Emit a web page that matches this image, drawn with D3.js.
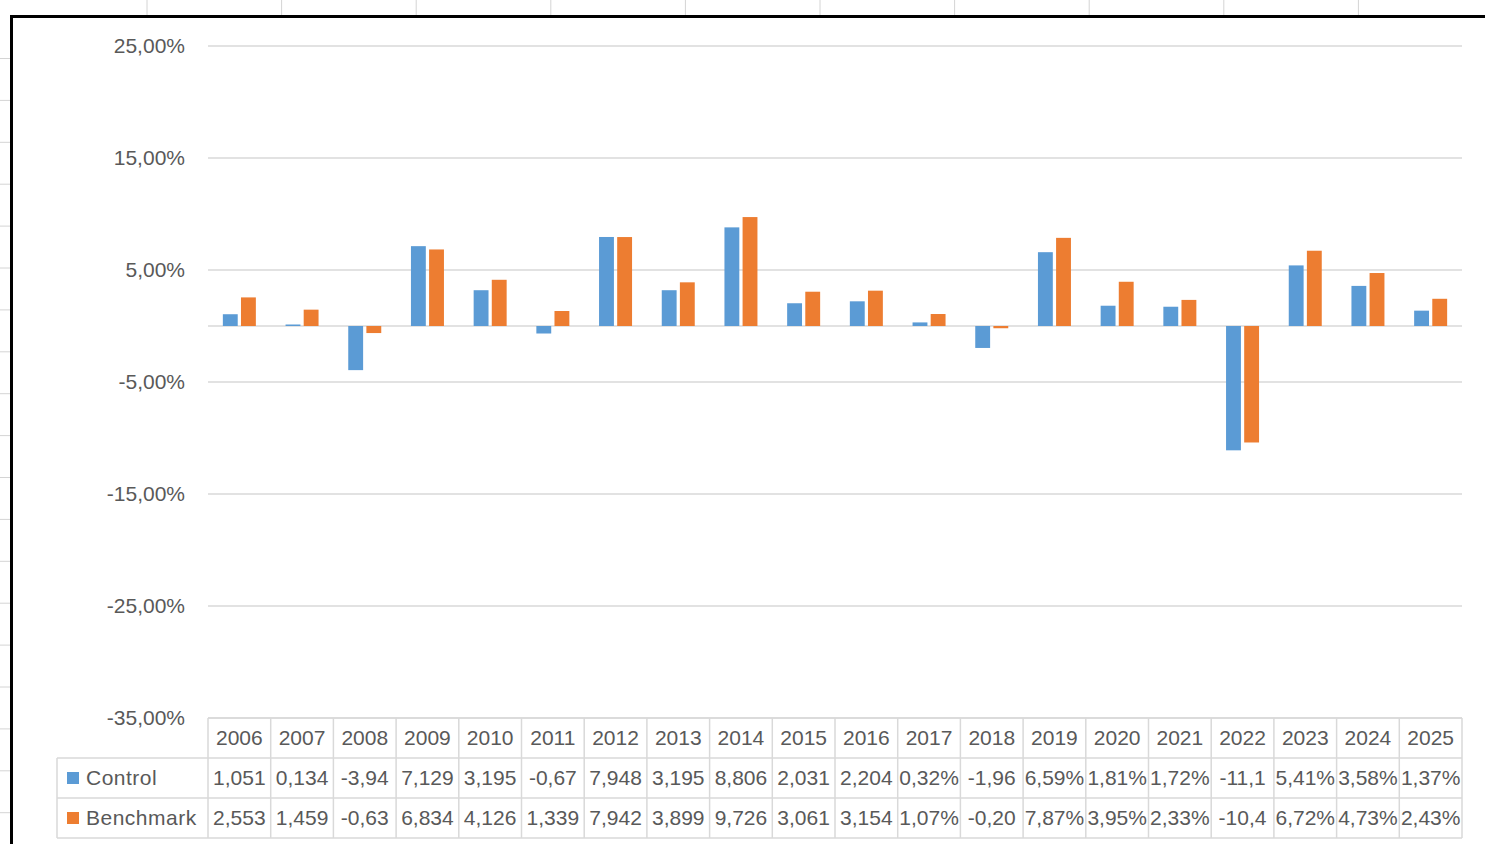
<!doctype html>
<html lang="en">
<head>
  <meta charset="utf-8">
  <title>Control vs Benchmark</title>
  <script src="https://d3js.org/d3.v7.min.js"></script>
  <style>
    html, body { margin: 0; padding: 0; background: #fff; }
    svg text { font-family: "Liberation Sans", Arial, sans-serif; fill: #595959; }
  </style>
</head>
<body>
  <div id="svg_container"></div>
  <script type="text/javascript">
  // data (percent)
  var years = ["2006","2007","2008","2009","2010","2011","2012","2013","2014","2015",
               "2016","2017","2018","2019","2020","2021","2022","2023","2024","2025"];
  var control = [1.051, 0.134, -3.94, 7.129, 3.195, -0.67, 7.948, 3.195, 8.806, 2.031,
                 2.204, 0.32, -1.96, 6.59, 1.81, 1.72, -11.1, 5.41, 3.58, 1.37];
  var benchmark = [2.553, 1.459, -0.63, 6.834, 4.126, 1.339, 7.942, 3.899, 9.726, 3.061,
                   3.154, 1.07, -0.20, 7.87, 3.95, 2.33, -10.4, 6.72, 4.73, 2.43];
  // what the data table cells show (Excel cuts them to fit)
  var controlText = ["1,051","0,134","-3,94","7,129","3,195","-0,67","7,948","3,195","8,806","2,031",
                     "2,204","0,32%","-1,96","6,59%","1,81%","1,72%","-11,1","5,41%","3,58%","1,37%"];
  var benchmarkText = ["2,553","1,459","-0,63","6,834","4,126","1,339","7,942","3,899","9,726","3,061",
                       "3,154","1,07%","-0,20","7,87%","3,95%","2,33%","-10,4","6,72%","4,73%","2,43%"];
  var seriesNames = ["Control", "Benchmark"];
  var seriesColors = ["#5b9bd5", "#ed7d31"];
  var yTicks = [25, 15, 5, -5, -15, -25, -35];

  var width = 1485,
      height = 844,
      plotLeft = 208,
      plotRight = 1462,
      plotTop = 46,
      plotBottom = 718,
      rowH = 40,
      legendLeft = 57,
      gridColor = "#d9d9d9";

  var svg = d3.select("#svg_container").append("svg")
            .attr("width", width)
            .attr("height", height);

  // spreadsheet cell lines peeking out around the chart
  var colLines = d3.range(10).map(function(i){ return 147 + i * 134.6; });
  svg.selectAll("line.sheetcol").data(colLines).enter().append("line")
      .attr("x1", function(d){ return d; }).attr("x2", function(d){ return d; })
      .attr("y1", 0).attr("y2", 15)
      .attr("stroke", "#d4d4d4").attr("stroke-width", 1);
  var rowLines = d3.range(19).map(function(i){ return 58.5 + i * 41.9; });
  svg.selectAll("line.sheetrow").data(rowLines).enter().append("line")
      .attr("x1", 0).attr("x2", 10)
      .attr("y1", function(d){ return d; }).attr("y2", function(d){ return d; })
      .attr("stroke", "#d4d4d4").attr("stroke-width", 1);

  // chart border
  svg.append("path")
      .attr("d", "M11.5," + height + "V16.5H" + width)
      .attr("fill", "none").attr("stroke", "#000").attr("stroke-width", 3);

  var y = d3.scaleLinear().domain([-35, 25]).range([plotBottom, plotTop]);
  var x0 = d3.scaleBand().domain(years).range([plotLeft, plotRight]).padding(0);
  var groupW = 33;
  var x1 = d3.scaleBand().domain(seriesNames).range([0, groupW]).paddingInner(0.18);

  // gridlines
  svg.selectAll("line.grid").data(yTicks).enter().append("line")
      .attr("x1", plotLeft).attr("x2", plotRight)
      .attr("y1", function(d){ return y(d); }).attr("y2", function(d){ return y(d); })
      .attr("stroke", gridColor).attr("stroke-width", 1.5);

  // y labels (plain hyphen, comma decimal like Excel)
  svg.selectAll("text.ylab").data(yTicks).enter().append("text")
      .attr("x", 185)
      .attr("y", function(d){ return y(d); })
      .attr("dy", "0.35em")
      .attr("text-anchor", "end")
      .style("font-size", "21px")
      .text(function(d){ return (d < 0 ? "-" : "") + Math.abs(d).toFixed(2).replace(".", ",") + "%"; });

  // zero (category) axis line
  svg.append("line")
      .attr("x1", plotLeft).attr("x2", plotRight)
      .attr("y1", y(0)).attr("y2", y(0))
      .attr("stroke", gridColor).attr("stroke-width", 1.5);

  // bars
  var rows = years.map(function(yr, i){
    return {year: yr, values: [{key: "Control", v: control[i]}, {key: "Benchmark", v: benchmark[i]}]};
  });
  var groups = svg.selectAll("g.year").data(rows).enter().append("g")
      .attr("transform", function(d){ return "translate(" + (x0(d.year) + (x0.bandwidth() - groupW) / 2) + ",0)"; });
  groups.selectAll("rect").data(function(d){ return d.values; }).enter().append("rect")
      .attr("x", function(d){ return x1(d.key); })
      .attr("width", x1.bandwidth())
      .attr("y", function(d){ return y(Math.max(0, d.v)); })
      .attr("height", function(d){ return Math.abs(y(d.v) - y(0)); })
      .attr("fill", function(d, i){ return seriesColors[i]; });

  // data table
  var tTop = plotBottom;
  var hl = [
    {x1: plotLeft, y: tTop},
    {x1: legendLeft, y: tTop + rowH},
    {x1: legendLeft, y: tTop + 2 * rowH},
    {x1: legendLeft, y: tTop + 3 * rowH}
  ];
  svg.selectAll("line.th").data(hl).enter().append("line")
      .attr("x1", function(d){ return d.x1; }).attr("x2", plotRight)
      .attr("y1", function(d){ return d.y; }).attr("y2", function(d){ return d.y; })
      .attr("stroke", gridColor).attr("stroke-width", 1.5);
  var vl = years.map(function(yr){ return x0(yr); }).concat([plotRight]);
  svg.selectAll("line.tv").data(vl).enter().append("line")
      .attr("x1", function(d){ return d; }).attr("x2", function(d){ return d; })
      .attr("y1", tTop).attr("y2", tTop + 3 * rowH)
      .attr("stroke", gridColor).attr("stroke-width", 1.5);
  svg.append("line")
      .attr("x1", legendLeft).attr("x2", legendLeft)
      .attr("y1", tTop + rowH).attr("y2", tTop + 3 * rowH)
      .attr("stroke", gridColor).attr("stroke-width", 1.5);

  var tableRows = [years, controlText, benchmarkText];
  tableRows.forEach(function(r, ri){
    svg.selectAll("text.cell" + ri).data(r).enter().append("text")
        .attr("x", function(d, i){ return x0(years[i]) + x0.bandwidth() / 2; })
        .attr("y", tTop + ri * rowH + rowH / 2)
        .attr("dy", "0.35em")
        .attr("text-anchor", "middle")
        .style("font-size", "21px")
        .text(function(d){ return d; });
  });

  // legend keys in the table
  seriesNames.forEach(function(name, i){
    var cy = tTop + (i + 1) * rowH + rowH / 2;
    svg.append("rect")
        .attr("x", 67).attr("y", cy - 6)
        .attr("width", 12).attr("height", 12)
        .attr("fill", seriesColors[i]);
    svg.append("text")
        .attr("x", 86).attr("y", cy)
        .attr("dy", "0.35em")
        .style("font-size", "21px")
        .style("letter-spacing", "0.5px")
        .text(name);
  });
  </script>
</body>
</html>
